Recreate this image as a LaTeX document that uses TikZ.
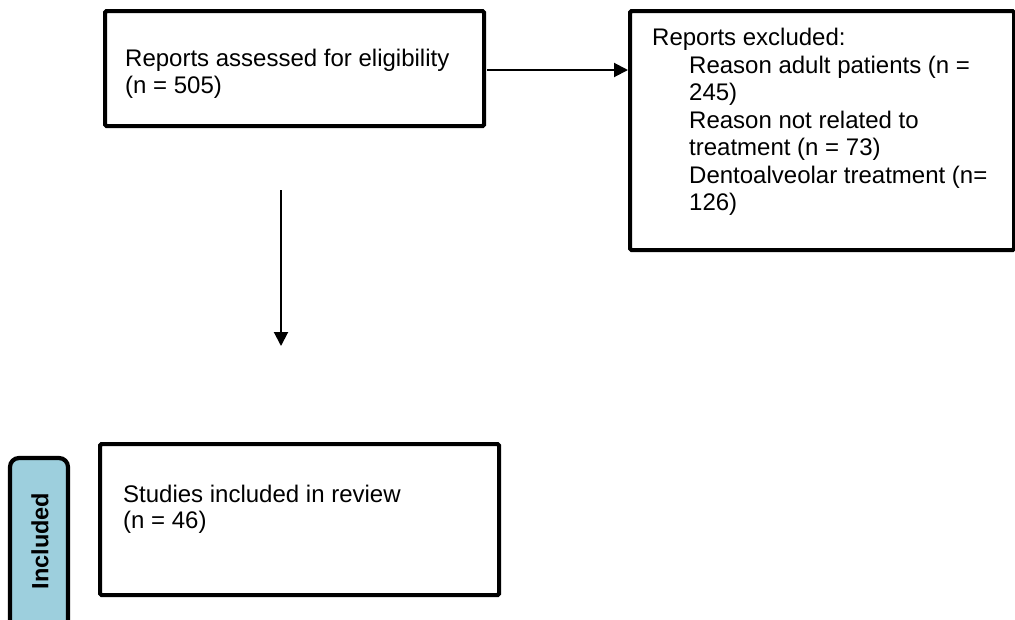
\documentclass[tikz,border=0pt]{standalone}
\usepackage{fontspec}
\setmainfont{Liberation Sans}
\usetikzlibrary{arrows.meta}
\definecolor{inclblue}{RGB}{157,207,221}
\tikzset{
  box/.style={draw=black, line width=4.2pt, fill=white, inner sep=0pt, anchor=north west, rounded corners=1.5pt},
  txt/.style={font=\fontsize{24}{27.5}\selectfont, align=left, anchor=base west, inner sep=0pt},
  arr/.style={line width=2pt, -{Triangle[length=14pt,width=14pt]}},
  phase/.style={draw=black, line width=4.2pt, fill=inclblue, rounded corners=9pt}
}
\begin{document}
\begin{tikzpicture}[x=1pt,y=-1pt]
\useasboundingbox (0,0) rectangle (1015,619);
\clip (0,0) rectangle (1015,619);
% boxes
\node[box, minimum width=379pt, minimum height=115pt] (b1) at (103,9) {};
\node[box, minimum width=384pt, minimum height=239pt] (b2) at (628,9) {};
\node[box, minimum width=399pt, minimum height=151pt] (b3) at (98,442) {};
% texts
\node[txt] (t1) at (125,66) {Reports assessed for eligibility};
\node[txt] (t1b) at (125,93) {(n = 505)};
\node[txt] (t2) at (652,45) {Reports excluded:};
\node[txt] (t2a) at (689,73) {Reason adult patients (n =};
\node[txt] (t2b) at (689,100) {245)};
\node[txt] (t2c) at (689,128) {Reason not related to};
\node[txt] (t2d) at (689,155) {treatment (n = 73)};
\node[txt] (t2e) at (689,183) {Dentoalveolar treatment (n=};
\node[txt] (t2f) at (689,210) {126)};
\node[txt] (t3) at (123,502) {Studies included in review};
\node[txt] (t3b) at (123,528) {(n = 46)};
% phase label
\draw[phase] (10,458) rectangle (68,650);
\node[font=\fontsize{23.5}{26}\selectfont\bfseries, rotate=90, inner sep=0pt] (inc) at (40,541) {Included};
% connectors
\coordinate (h1) at (487,70);
\draw[arr] (h1) -- (h1 -| b2.west);
\coordinate (v1) at (281,190);
\coordinate (v2) at (281,346);
\draw[arr] (v1) -- (v2);
\end{tikzpicture}
\end{document}
